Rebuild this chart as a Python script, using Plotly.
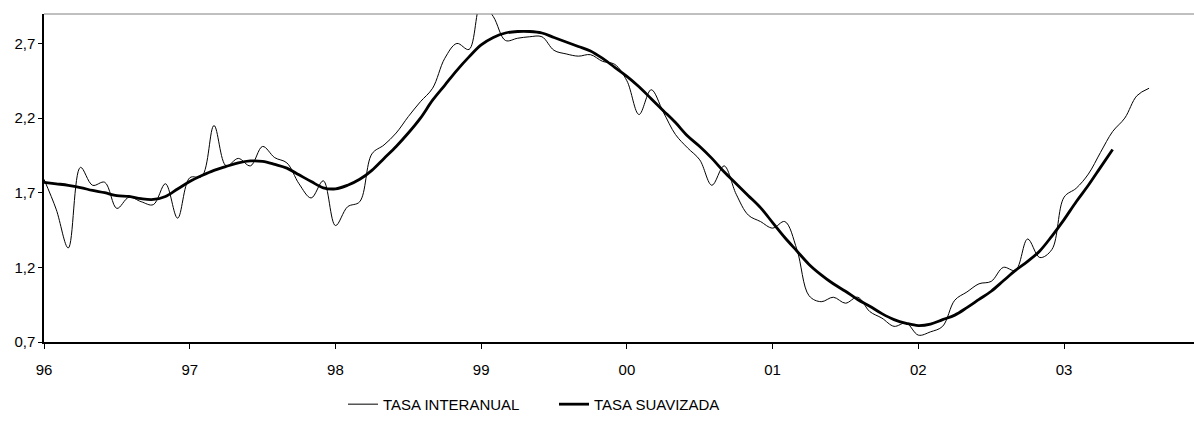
import plotly.graph_objects as go

# Monthly series, January 1996 onwards
tasa_interanual = [
    1.79, 1.59, 1.33, 1.87, 1.75, 1.77, 1.595, 1.67, 1.64, 1.62, 1.76, 1.53,
    1.80, 1.81, 2.15, 1.88, 1.93, 1.88, 2.01, 1.935, 1.90, 1.76, 1.665, 1.78,
    1.48, 1.606, 1.64, 1.96, 2.02, 2.10, 2.21, 2.31, 2.40, 2.60, 2.70, 2.66,
    2.97, 2.88, 2.72, 2.735, 2.745, 2.745, 2.654, 2.63, 2.615, 2.625, 2.58, 2.56,
    2.45, 2.224, 2.39, 2.24, 2.09, 2.00, 1.92, 1.75, 1.88, 1.69, 1.55, 1.507,
    1.463, 1.507, 1.32, 1.01, 0.97, 1.00, 0.96, 1.00, 0.904, 0.86, 0.805, 0.827,
    0.746, 0.768, 0.805, 0.98, 1.035, 1.09, 1.106, 1.20, 1.18, 1.39, 1.266, 1.32,
    1.67, 1.73, 1.825, 1.97, 2.11, 2.20, 2.35, 2.40,
]

tasa_suavizada = [
    1.77, 1.76, 1.75, 1.735, 1.715, 1.70, 1.68, 1.675, 1.66, 1.655, 1.675, 1.725,
    1.775, 1.815, 1.85, 1.876, 1.90, 1.913, 1.91, 1.89, 1.865, 1.82, 1.775, 1.733,
    1.726, 1.75, 1.79, 1.85, 1.93, 2.01, 2.10, 2.20, 2.32, 2.42, 2.52, 2.61,
    2.69, 2.74, 2.77, 2.78, 2.78, 2.77, 2.74, 2.71, 2.68, 2.65, 2.60, 2.54,
    2.48, 2.41, 2.33, 2.25, 2.17, 2.08, 2.01, 1.93, 1.84, 1.76, 1.68, 1.60,
    1.50, 1.40, 1.31, 1.22, 1.15, 1.09, 1.04, 0.985, 0.94, 0.89, 0.85, 0.825,
    0.81, 0.82, 0.85, 0.88, 0.93, 0.985, 1.04, 1.11, 1.18, 1.24, 1.31, 1.41,
    1.52, 1.64, 1.75, 1.87, 1.99,
]

year_labels = ["96", "97", "98", "99", "00", "01", "02", "03"]
y_ticks = [0.7, 1.2, 1.7, 2.2, 2.7]

months_a = list(range(len(tasa_interanual)))
months_b = list(range(len(tasa_suavizada)))

FONT = "Liberation Sans, Arial, sans-serif"

fig = go.Figure()
fig.add_trace(go.Scatter(
    x=months_a, y=tasa_interanual, mode="lines", name="TASA INTERANUAL",
    line=dict(color="black", width=1, shape="spline", smoothing=1.0),
))
fig.add_trace(go.Scatter(
    x=months_b, y=tasa_suavizada, mode="lines", name="TASA SUAVIZADA",
    line=dict(color="black", width=2.8, shape="spline", smoothing=1.0),
))

fig.update_layout(
    width=1194, height=421,
    margin=dict(l=44, r=0, t=14, b=73),
    paper_bgcolor="white", plot_bgcolor="white",
    separators=",.",
    font=dict(family=FONT, size=15, color="black"),
    showlegend=True,
    legend=dict(
        orientation="h", x=(343 - 44) / 1150, xanchor="left", y=-0.14, yanchor="top",
        font=dict(family=FONT, size=15, color="black"),
        bgcolor="rgba(0,0,0,0)", entrywidth=166, entrywidthmode="pixels",
        tracegroupgap=0,
    ),
    xaxis=dict(
        range=[0, 94.7], tickmode="array",
        tickvals=[12 * i for i in range(len(year_labels))], ticktext=year_labels,
        showgrid=False, zeroline=False, showline=True, linecolor="black", linewidth=1.5,
        ticks="outside", ticklen=5, tickcolor="black", tickwidth=1,
        ticklabelstandoff=8,
        tickfont=dict(family=FONT, size=15, color="black"),
    ),
    yaxis=dict(
        range=[0.7, 0.7 + 334 / 152], tickmode="array", tickvals=y_ticks,
        tickformat=".1f",
        showgrid=False, zeroline=False, showline=True, linecolor="black", linewidth=1.5,
        ticks="outside", ticklen=4, tickcolor="black", tickwidth=1,
        tickfont=dict(family=FONT, size=15, color="black"),
    ),
    shapes=[dict(
        type="line", xref="paper", yref="paper", x0=0, x1=1, y0=1, y1=1,
        line=dict(color="#808080", width=1),
    )],
)

fig.write_html("out.html")
